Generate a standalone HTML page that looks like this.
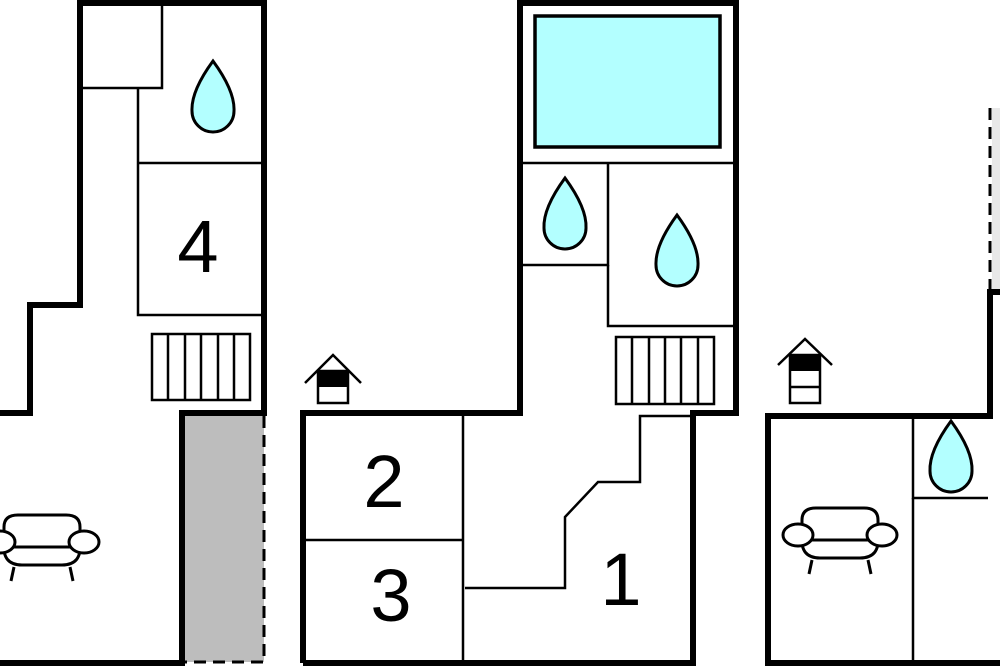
<!DOCTYPE html>
<html><head><meta charset="utf-8"><style>html,body{margin:0;padding:0;background:#fff}svg{display:block}</style></head>
<body>
<svg width="1000" height="666" viewBox="0 0 1000 666" xmlns="http://www.w3.org/2000/svg" font-family="Liberation Sans, sans-serif">
<defs>
<g id="drop"><path d="M0,0 Q22,30 21,50 A21,21 0 0 1 -21,50 Q-22,30 0,0 Z" fill="#b3ffff" stroke="#000" stroke-width="3"/></g>
<g id="sofa" fill="#fff" stroke="#000" stroke-width="3">
<path d="M-38,32 L-38,12 Q-38,0 -24,0 L24,0 Q38,0 38,12 L38,32"/>
<path d="M-38,28 Q-40,50 -20,50 L20,50 Q40,50 38,28"/>
<line x1="-28" y1="32" x2="28" y2="32"/>
<ellipse cx="-42" cy="27" rx="15" ry="11"/>
<ellipse cx="42" cy="27" rx="15" ry="11"/>
<line x1="-28" y1="52" x2="-31" y2="66"/>
<line x1="28" y1="52" x2="31" y2="66"/>
</g>
</defs>
<rect x="0" y="0" width="1000" height="666" fill="#fff"/>

<!-- LEFT PLAN -->
<rect x="185" y="416" width="79" height="246" fill="#bdbdbd"/>
<path d="M264,416 L264,662 L185,662" fill="none" stroke="#000" stroke-width="3" stroke-dasharray="12,7"/>
<g fill="none" stroke="#000" stroke-width="2.5">
<rect x="80" y="3" width="82" height="85"/>
<polyline points="138,88 138,315 264,315"/>
<line x1="138" y1="163" x2="264" y2="163"/>
<rect x="152" y="334" width="98" height="66"/>
<line x1="168" y1="334" x2="168" y2="400"/>
<line x1="185" y1="334" x2="185" y2="400"/>
<line x1="201" y1="334" x2="201" y2="400"/>
<line x1="218" y1="334" x2="218" y2="400"/>
<line x1="234" y1="334" x2="234" y2="400"/>
</g>
<g fill="none" stroke="#000" stroke-width="6">
<polyline points="0,413 30,413 30,305 80,305 80,3 264,3 264,416"/>
<polyline points="264,413 182,413 182,663 0,663"/>
</g>
<use href="#drop" x="213" y="61"/>
<text x="198" y="272" font-size="74" text-anchor="middle">4</text>
<use href="#sofa" x="42" y="515"/>

<!-- MIDDLE PLAN -->
<rect x="535" y="16" width="185" height="131" fill="#b3ffff" stroke="#000" stroke-width="3.5"/>
<g fill="none" stroke="#000" stroke-width="2.5">
<line x1="520" y1="163" x2="735" y2="163"/>
<polyline points="520,265 608,265 608,163"/>
<polyline points="608,265 608,326 735,326"/>
<rect x="616" y="337" width="98" height="67"/>
<line x1="632" y1="337" x2="632" y2="404"/>
<line x1="649" y1="337" x2="649" y2="404"/>
<line x1="665" y1="337" x2="665" y2="404"/>
<line x1="681" y1="337" x2="681" y2="404"/>
<line x1="698" y1="337" x2="698" y2="404"/>
<polyline points="465,588 565,588 565,517 598,482 640,482 640,416 693,416"/>
<line x1="463" y1="416" x2="463" y2="663"/>
<line x1="303" y1="540" x2="463" y2="540"/>
</g>
<g fill="none" stroke="#000" stroke-width="6">
<polyline points="303,663 303,413 520,413 520,3 736,3 736,413 693,413 693,663 303,663"/>
</g>
<use href="#drop" x="565" y="178"/>
<use href="#drop" x="677" y="215"/>
<text x="384" y="507" font-size="74" text-anchor="middle">2</text>
<text x="391" y="621" font-size="74" text-anchor="middle">3</text>
<text x="621" y="605" font-size="74" text-anchor="middle">1</text>
<g stroke="#000" fill="none">
<polyline points="305,383 333,355 361,383" stroke-width="2.5"/>
<rect x="318" y="371" width="30" height="32" fill="#fff" stroke-width="2.5"/>
<rect x="318" y="371" width="30" height="15" fill="#000" stroke-width="2"/>
</g>

<!-- RIGHT PLAN -->
<rect x="992" y="108" width="8" height="184" fill="#e8e8e8"/>
<line x1="990" y1="108" x2="990" y2="292" stroke="#000" stroke-width="3" stroke-dasharray="12,7"/>
<g fill="none" stroke="#000" stroke-width="2.5">
<polyline points="913,416 913,498 988,498"/>
<line x1="913" y1="498" x2="913" y2="663"/>
</g>
<g fill="none" stroke="#000" stroke-width="6">
<polyline points="1000,292 990,292 990,416 768,416 768,663 1000,663"/>
</g>
<use href="#drop" x="951" y="421"/>
<use href="#sofa" x="840" y="508"/>
<g stroke="#000" fill="none">
<polyline points="778,365 805,339 832,365" stroke-width="2.5"/>
<rect x="790" y="355" width="30" height="48" fill="#fff" stroke-width="2.5"/>
<rect x="790" y="355" width="30" height="15" fill="#000" stroke-width="2"/>
<line x1="790" y1="387" x2="820" y2="387" stroke-width="2.5"/>
</g>
</svg>
</body></html>
